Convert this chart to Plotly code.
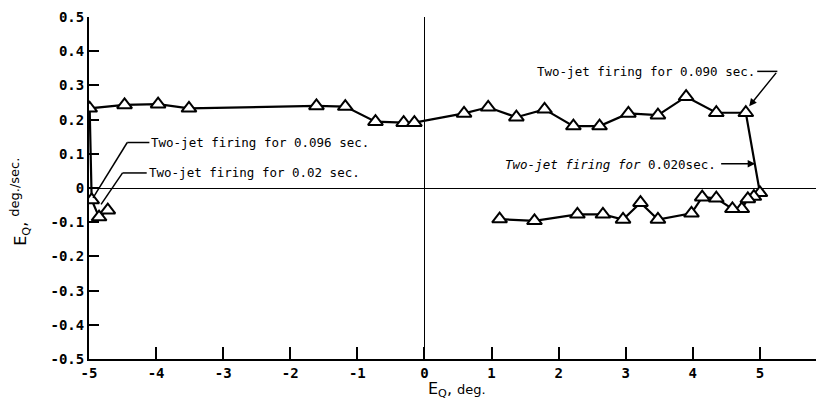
import plotly.graph_objects as go

# trajectory, in the order it was flown
eq_deg = [-4.72, -4.85, -4.96, -4.99, -4.47, -3.97, -3.51, -1.61, -1.18, -0.73, -0.31, -0.15,
          0.59, 0.95, 1.37, 1.79, 2.22, 2.61, 3.04, 3.48, 3.90, 4.35, 4.79,
          5.00, 4.91, 4.82, 4.73, 4.59, 4.35, 4.14, 3.98, 3.48, 3.22, 2.96, 2.66, 2.28, 1.64, 1.12]
eq_rate = [-0.065, -0.085, -0.035, 0.233, 0.243, 0.245, 0.233, 0.240, 0.238, 0.194, 0.191, 0.191,
           0.218, 0.236, 0.207, 0.230, 0.181, 0.181, 0.218, 0.213, 0.267, 0.220, 0.220,
           -0.014, -0.025, -0.032, -0.061, -0.061, -0.030, -0.027, -0.074, -0.092, -0.043, -0.092,
           -0.077, -0.077, -0.096, -0.091]

x_ticks = [-5, -4, -3, -2, -1, 0, 1, 2, 3, 4, 5, 6]
x_ticktext = ["-5", "-4", "-3", "-2", "-1", "0", "1", "2", "3", "4", "5", "6"]
y_ticks = [0.5, 0.4, 0.3, 0.2, 0.1, 0, -0.1, -0.2, -0.3, -0.4, -0.5]
y_ticktext = ["0.5", "0.4", "0.3", "0.2", "0.1", "0", "-0.1", "-0.2", "-0.3", "-0.4", "-0.5"]

FONT = "DejaVu Sans"
MONO = "DejaVu Sans Mono"

fig = go.Figure()
fig.add_trace(go.Scatter(
    x=eq_deg, y=eq_rate, mode="lines+markers",
    line=dict(color="black", width=2.2),
    marker=dict(symbol="triangle-up", size=13, color="white",
                line=dict(color="black", width=2)),
    showlegend=False,
))

# leader lines for the labels (data coordinates)
leaders = [
    (-4.43, 0.133, -4.10, 0.133), (-4.43, 0.133, -4.94, -0.029),
    (-4.50, 0.044, -4.14, 0.044), (-4.50, 0.044, -4.82, -0.048),
    (4.96, 0.341, 5.26, 0.341),
]
for x0, y0, x1, y1 in leaders:
    fig.add_shape(type="line", x0=x0, y0=y0, x1=x1, y1=y1, xref="x", yref="y",
                  line=dict(color="black", width=1.5))

lab = dict(font=dict(family=MONO, size=12.5, color="black"), showarrow=False,
           xref="x", yref="y")
fig.add_annotation(x=-4.10, y=0.133, text="Two-jet firing for 0.096 sec.", xanchor="left", **lab)
fig.add_annotation(x=-4.13, y=0.044, text="Two-jet firing for 0.02 sec.", xanchor="left", **lab)
fig.add_annotation(x=4.96, y=0.341, text="Two-jet firing for 0.090 sec.", xanchor="right", **lab)
fig.add_annotation(x=4.37, y=0.069, text="<i>Two-jet firing for</i> 0.020sec.", xanchor="right", **lab)

# arrows
fig.add_annotation(x=4.84, y=0.239, ax=5.26, ay=0.341, axref="x", ayref="y", xref="x", yref="y",
                   text="", showarrow=True, arrowhead=2, arrowsize=1, arrowwidth=1.5, arrowcolor="black")
fig.add_annotation(x=4.93, y=0.071, ax=4.40, ay=0.071, axref="x", ayref="y", xref="x", yref="y",
                   text="", showarrow=True, arrowhead=2, arrowsize=1, arrowwidth=1.5, arrowcolor="black")

# axis titles
fig.add_annotation(x=0.49, y=-0.125, xref="x", yref="paper", showarrow=False,
                   text="E<sub>Q</sub>, <span style='font-size:13px'>deg.</span>",
                   font=dict(family=FONT, size=16, color="black"))
fig.add_annotation(x=-0.113, y=0.46, xref="paper", yref="paper", showarrow=False, textangle=-90,
                   text="E<sub>Q</sub>, <sup><span style='font-size:13px'>deg./sec.</span></sup>",
                   font=dict(family=FONT, size=16, color="black"))

fig.update_layout(
    width=824, height=411,
    margin=dict(l=81, r=5, t=9, b=60),
    plot_bgcolor="white", paper_bgcolor="white",
    font=dict(family=FONT, color="black"),
)
fig.update_xaxes(
    range=[-5, 6], tickvals=x_ticks, ticktext=x_ticktext, ticks="inside", ticklen=12,
    tickwidth=1.5, tickcolor="black", showline=True, linecolor="black", linewidth=2,
    showgrid=False, zeroline=True, zerolinecolor="black", zerolinewidth=1.2, automargin=False,
    tickfont=dict(family=MONO, size=14, weight="bold"),
)
fig.update_yaxes(
    range=[-0.5, 0.5], tickvals=y_ticks, ticktext=y_ticktext, ticks="inside", ticklen=10,
    tickwidth=1.5, tickcolor="black", showline=True, linecolor="black", linewidth=2,
    showgrid=False, zeroline=True, zerolinecolor="black", zerolinewidth=1.2, automargin=False,
    tickfont=dict(family=MONO, size=14, weight="bold"),
)

fig.write_html("out.html")
